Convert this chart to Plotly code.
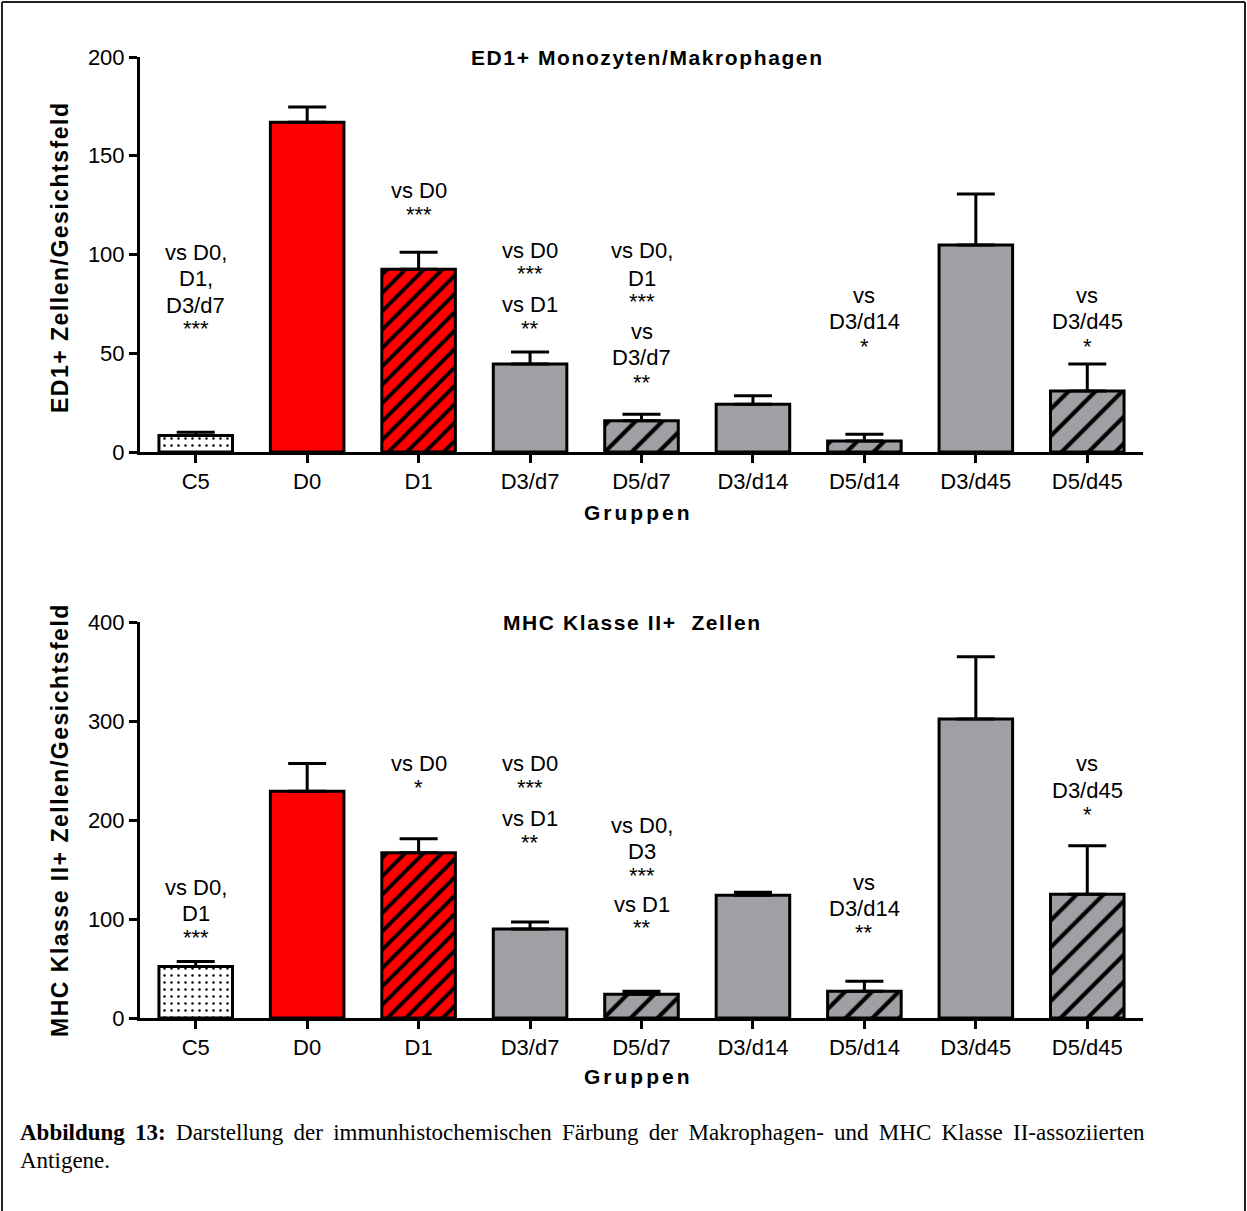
import plotly.graph_objects as go

W, H = 1247, 1211

groups = ["C5", "D0", "D1", "D3/d7", "D5/d7", "D3/d14", "D5/d14", "D3/d45", "D5/d45"]
# fill style of each group's bar
group_style = ["dots", "red", "red_hatch", "grey", "grey_hatch", "grey", "grey_hatch", "grey", "grey_hatch"]

# ED1+ Monozyten/Makrophagen: mean and SEM per group
ed1_mean = [8.3, 167.0, 92.5, 44.6, 15.8, 24.2, 5.6, 104.8, 30.9]
ed1_sem = [1.7, 7.7, 8.6, 6.0, 3.3, 4.3, 3.4, 25.8, 13.7]

# MHC Klasse II+ Zellen: mean and SEM per group
mhc_mean = [52.0, 229.0, 167.0, 90.0, 24.0, 124.0, 27.0, 302.0, 125.0]
mhc_sem = [5.0, 28.0, 14.0, 7.0, 3.0, 3.0, 10.0, 63.0, 49.0]

ed1_ticks = [0, 50, 100, 150, 200]
mhc_ticks = [0, 100, 200, 300, 400]

RED = "#FF0000"
GREY = "#A0A0A4"
STYLES = {
    "dots": dict(color="white", pattern=dict(shape=".", size=7, solidity=0.1)),
    "red": dict(color=RED, pattern=None),
    "red_hatch": dict(color=RED, pattern=dict(shape="/", size=13, solidity=0.3)),
    "grey": dict(color=GREY, pattern=None),
    "grey_hatch": dict(color=GREY, pattern=dict(shape="/", size=19, solidity=0.22)),
}

SANS = "Liberation Sans, Arial, sans-serif"
SERIF = "Liberation Serif, Times New Roman, serif"


def px_x(p):
    return p / W


def px_y(p):
    return 1 - p / H


def add_bars(fig, means, sems, xa, ya):
    for name, st in STYLES.items():
        idx = [i for i, s in enumerate(group_style) if s == name]
        marker = dict(color=st["color"], line=dict(color="black", width=3))
        if st["pattern"]:
            marker["pattern"] = dict(st["pattern"], fillmode="overlay", bgcolor=st["color"],
                                     fgcolor="black", fgopacity=1)
        fig.add_trace(go.Bar(
            x=[groups[i] for i in idx], y=[means[i] for i in idx],
            xaxis=xa, yaxis=ya, width=0.66, marker=marker,
            error_y=dict(type="data", symmetric=False, array=[sems[i] for i in idx],
                         arrayminus=[0] * len(idx), color="black", thickness=3, width=19),
            showlegend=False,
        ))


fig = go.Figure()
add_bars(fig, ed1_mean, ed1_sem, "x", "y")
add_bars(fig, mhc_mean, mhc_sem, "x2", "y2")

axis_common = dict(showline=True, linecolor="black", linewidth=3, ticks="outside",
                   ticklen=8, tickwidth=3, tickcolor="black", showgrid=False,
                   zeroline=False, tickfont=dict(family=SANS, size=22, color="black"))
xdom = [px_x(140), px_x(1143)]

fig.update_layout(
    width=W, height=H, margin=dict(l=0, r=0, t=0, b=0, autoexpand=False),
    paper_bgcolor="white", plot_bgcolor="white", barmode="overlay",
    xaxis=dict(domain=xdom, anchor="y", type="category", categoryorder="array",
               categoryarray=groups, range=[-0.5, 8.5], **axis_common),
    yaxis=dict(domain=[px_y(452), px_y(57)], anchor="x", range=[0, 200],
               tickvals=ed1_ticks, **axis_common),
    xaxis2=dict(domain=xdom, anchor="y2", type="category", categoryorder="array",
                categoryarray=groups, range=[-0.5, 8.5], **axis_common),
    yaxis2=dict(domain=[px_y(1018), px_y(622)], anchor="x2", range=[0, 400],
                tickvals=mhc_ticks, **axis_common),
)

ann = []


def label(text, xp, yp, size=21, bold=False, angle=0, family=SANS, xanchor="center", spacing=0):
    if bold:
        text = f"<b>{text}</b>"
    if spacing:
        text = f'<span style="letter-spacing:{spacing}px">{text}</span>'
    ann.append(dict(text=text, x=px_x(xp), y=px_y(yp),
                    xref="paper", yref="paper", showarrow=False, textangle=angle,
                    xanchor=xanchor, yanchor="middle",
                    font=dict(family=family, size=size, color="black")))


# panel titles and axis titles
label("ED1+ Monozyten/Makrophagen", 647, 57, size=21, bold=True, spacing=1.6)
label("MHC Klasse II+  Zellen", 632, 622, size=21, bold=True, spacing=1.6)
label("Gruppen", 638, 512, size=21, bold=True, spacing=3)
label("Gruppen", 638, 1076, size=21, bold=True, spacing=3)
label("ED1+ Zellen/Gesichtsfeld", 60, 258, size=23, bold=True, angle=-90, spacing=1.5)
label("MHC Klasse II+ Zellen/Gesichtsfeld", 60, 820, size=23, bold=True, angle=-90, spacing=1.5)


# significance notes above the bars: (group, panel, [(text, pixel y)])
def note(group, xa, lines):
    for text, yp in lines:
        stars = set(text) == {"*"}
        ann.append(dict(text=text, x=group, xref=xa, y=px_y(yp + (2 if stars else 0)),
                        yref="paper", showarrow=False, xanchor="center", yanchor="middle",
                        font=dict(family=SANS, size=22, color="black")))


note("C5", "x", [("vs D0,", 252), ("D1,", 279), ("D3/d7", 305), ("***", 326)])
note("D1", "x", [("vs D0", 190), ("***", 212)])
note("D3/d7", "x", [("vs D0", 251), ("***", 272), ("vs D1", 304), ("**", 326)])
note("D5/d7", "x", [("vs D0,", 251), ("D1", 278), ("***", 299), ("vs", 331),
                    ("D3/d7", 358), ("**", 380)])
note("D5/d14", "x", [("vs", 295), ("D3/d14", 321), ("*", 344)])
note("D5/d45", "x", [("vs", 295), ("D3/d45", 321), ("*", 344)])

note("C5", "x2", [("vs D0,", 887), ("D1", 913), ("***", 935)])
note("D1", "x2", [("vs D0", 763), ("*", 785)])
note("D3/d7", "x2", [("vs D0", 763), ("***", 785), ("vs D1", 818), ("**", 840)])
note("D5/d7", "x2", [("vs D0,", 825), ("D3", 851), ("***", 873), ("vs D1", 904), ("**", 925)])
note("D5/d14", "x2", [("vs", 882), ("D3/d14", 908), ("**", 930)])
note("D5/d45", "x2", [("vs", 763), ("D3/d45", 790), ("*", 812)])

# caption (justified first line)
ann.append(dict(
    text='<span style="word-spacing:4.5px"><b>Abbildung 13:</b> Darstellung der immunhistochemischen '
         'Färbung der Makrophagen- und MHC Klasse II-assoziierten</span>',
    x=px_x(18), y=px_y(1132), xref="paper", yref="paper", showarrow=False,
    xanchor="left", yanchor="middle", font=dict(family=SERIF, size=23, color="black")))
label("Antigene.", 18, 1160, size=23, family=SERIF, xanchor="left")

fig.update_layout(annotations=ann)

# frame around the figure (open at the bottom)
frame = dict(type="line", xref="paper", yref="paper", line=dict(color="#222", width=2))
fig.update_layout(shapes=[
    dict(frame, x0=px_x(2), x1=px_x(1245), y0=px_y(2), y1=px_y(2)),
    dict(frame, x0=px_x(2), x1=px_x(2), y0=px_y(2), y1=0),
    dict(frame, x0=px_x(1245), x1=px_x(1245), y0=px_y(2), y1=0),
])

fig.write_html("out.html")
